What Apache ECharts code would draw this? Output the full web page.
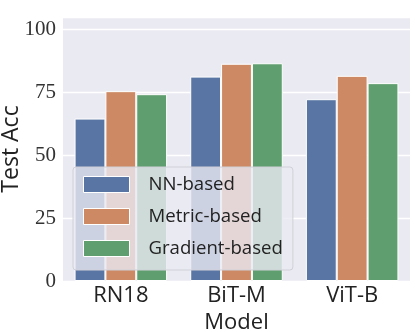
<!DOCTYPE html>
<html>
<head>
<meta charset="utf-8">
<script src="https://cdn.jsdelivr.net/npm/echarts@6/dist/echarts.min.js"></script>
<style>
  html, body { margin: 0; padding: 0; background: #fff; }
  #box { width: 415px; height: 332px; }
</style>
</head>
<body>
<div id="box"></div>
<script>
var models = ['RN18', 'BiT-M', 'ViT-B'];
var nnBased = [64.6, 81.3, 72.3];
var metricBased = [75.5, 86.4, 81.6];
var gradBased = [74.3, 86.6, 78.7];
var yTicks = [0, 25, 50, 75, 100];

var sans = 'Open Sans';
var serif = 'Liberation Serif';

var myChart = echarts.init(document.getElementById('box'));

function bar(name, data, color) {
    return {
        name: name,
        type: 'bar',
        data: data,
        barGap: '0%',
        barCategoryGap: '20%',
        itemStyle: {
            color: color,
            borderColor: '#ffffff',
            borderWidth: 1
        }
    };
}

var option = {
    animation: false,
    backgroundColor: '#ffffff',
    grid: {
        left: 63,
        right: 5,
        top: 17,
        bottom: 51,
        containLabel: false,
        outerBoundsMode: 'none',
        show: true,
        backgroundColor: '#eaeaf2',
        borderWidth: 0
    },
    legend: {
        orient: 'vertical',
        left: 73,
        top: 167,
        padding: [8, 10, 12, 10],
        itemWidth: 46,
        itemHeight: 16,
        itemGap: 13,
        backgroundColor: 'rgba(234,234,242,0.8)',
        borderColor: '#d0d0d8',
        borderWidth: 1,
        borderRadius: 3,
        icon: 'rect',
        itemStyle: { borderColor: '#ffffff', borderWidth: 1 },
        textStyle: {
            fontFamily: sans,
            fontSize: 18.6,
            color: '#222',
            lineHeight: 19,
            padding: [0, 0, 0, 14]
        },
        data: ['NN-based', 'Metric-based', 'Gradient-based']
    },
    xAxis: {
        type: 'category',
        data: models,
        name: 'Model',
        nameLocation: 'middle',
        nameGap: 29,
        nameTextStyle: { fontFamily: sans, fontSize: 22, color: '#222' },
        axisLine: { show: false },
        axisTick: { show: false },
        axisLabel: { fontFamily: sans, fontSize: 22, color: '#222', margin: 4 },
        splitLine: { show: false }
    },
    yAxis: {
        type: 'value',
        min: 0,
        max: 105,
        interval: 25,
        name: 'Test Acc',
        nameLocation: 'middle',
        nameGap: 40,
        nameMoveOverlap: false,
        nameTextStyle: { fontFamily: sans, fontSize: 23, color: '#222' },
        axisLine: { show: false },
        axisTick: { show: false },
        axisLabel: {
            fontFamily: serif,
            fontSize: 21,
            color: '#333',
            margin: 7,
            formatter: function (v) {
                return yTicks.indexOf(v) >= 0 ? String(v) : '';
            }
        },
        splitLine: { lineStyle: { color: '#ffffff', width: 1.3 } }
    },
    series: [
        bar('NN-based', nnBased, '#5975a4'),
        bar('Metric-based', metricBased, '#cc8963'),
        bar('Gradient-based', gradBased, '#5f9e6e')
    ]
};

myChart.setOption(option);
</script>
</body>
</html>
